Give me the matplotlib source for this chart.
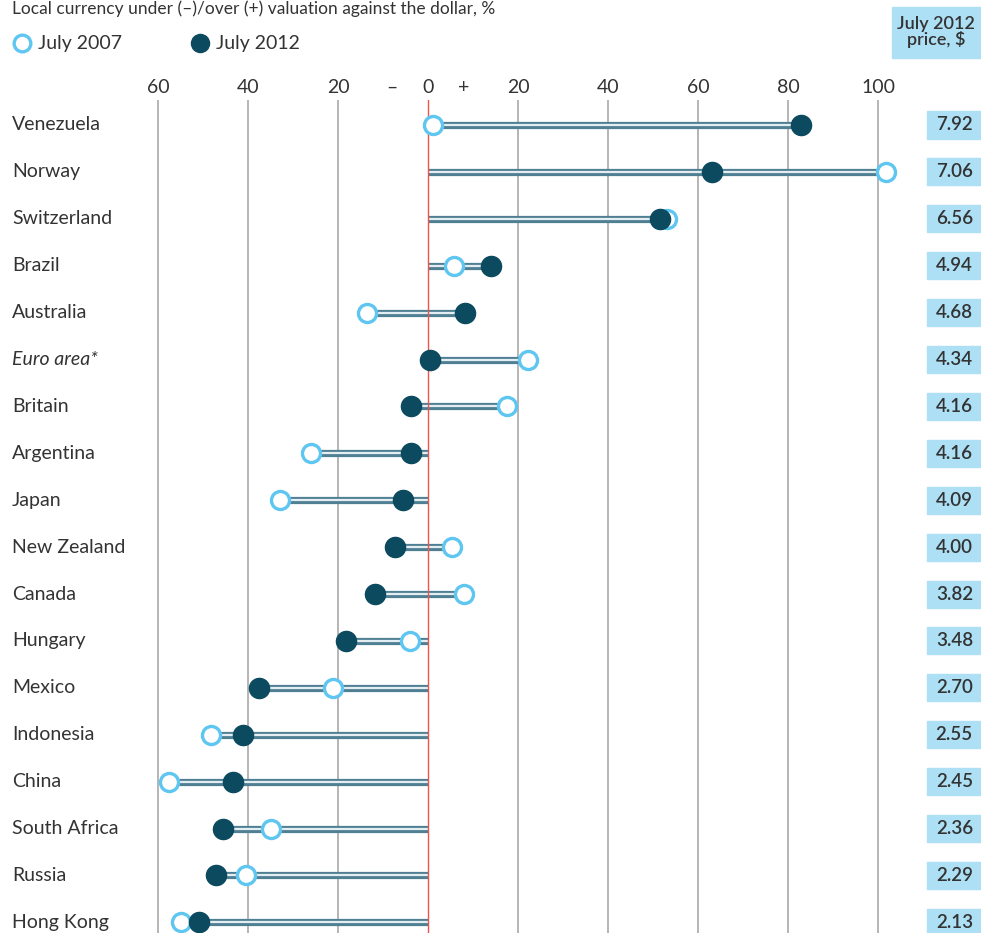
import matplotlib.pyplot as plt
import numpy as np

countries = ['Venezuela', 'Norway', 'Switzerland', 'Brazil', 'Australia', 'Euro area*',
             'Britain', 'Argentina', 'Japan', 'New Zealand', 'Canada', 'Hungary',
             'Mexico', 'Indonesia', 'China', 'South Africa', 'Russia', 'Hong Kong']
val_2007 = [1.1, 101.8, 53.1, 5.8, -13.6, 22.2, 17.6, -26.0, -32.9, 5.3, 8.0, -4.0,
            -21.1, -48.2, -57.6, -34.9, -40.4, -54.9]
val_2012 = [82.9, 63.1, 51.6, 14.0, 8.2, 0.4, -3.8, -3.8, -5.6, -7.3, -11.8, -18.2,
            -37.6, -41.1, -43.3, -45.6, -47.1, -50.9]
price_2012 = ['7.92', '7.06', '6.56', '4.94', '4.68', '4.34', '4.16', '4.16', '4.09',
              '4.00', '3.82', '3.48', '2.70', '2.55', '2.45', '2.36', '2.29', '2.13']
tick_pos = [-60, -40, -20, -8, 0, 8, 20, 40, 60, 80, 100]
tick_lab = ['60', '40', '20', '–', '0', '+', '20', '40', '60', '80', '100']
grid_pos = [-60, -40, -20, 20, 40, 60, 80, 100]

plt.rcParams['font.family'] = ['Lato', 'DejaVu Sans']

dark = '#0c4a5f'
light = '#5ec6f0'
bar_out = '#4f7f92'
box = '#aee0f5'
txt = '#333333'

W, H = 981, 933
fig = plt.figure(figsize=(W / 100, H / 100), dpi=100)
# axes in pixels: x 150..900, y 100..933
ax = fig.add_axes([150 / W, 0, 750 / W, 833 / H])
ax.set_xlim((150 - 428) / 4.5, (900 - 428) / 4.5)
ax.set_ylim((933 - 125) / 46.9, -25 / 46.9)
for s in ax.spines.values():
    s.set_visible(False)
ax.set_yticks([])
ax.xaxis.tick_top()
ax.set_xticks(tick_pos)
ax.set_xticklabels(tick_lab, fontsize=14, color=txt)
ax.tick_params(axis='x', length=0, pad=3)

for g in grid_pos:
    ax.axvline(g, color='#b5b5b5', lw=1.4, zorder=1)
ax.axvline(0, color='#f0524d', lw=1.0, zorder=3)

y = np.arange(len(countries))
for i in range(len(countries)):
    lo = min(0, val_2007[i], val_2012[i])
    hi = max(0, val_2007[i], val_2012[i])
    ax.plot([lo, hi], [i, i], color=bar_out, lw=5.2, solid_capstyle='butt', zorder=2)
    ax.plot([lo, hi], [i, i], color='#e4eef2', lw=1.6, solid_capstyle='butt', zorder=2)

ax.plot(val_2007, y, 'o', ms=13, mfc='white', mec=light, mew=2.4, ls='none', zorder=4)
ax.plot(val_2012, y, 'o', ms=14.5, color=dark, ls='none', zorder=5)

# country names and price boxes
for i, c in enumerate(countries):
    ypix = 125 + 46.9 * i
    fy = 1 - ypix / H
    fig.text(12 / W, fy, c, fontsize=14, color=txt, va='center', ha='left',
             style='italic' if c.startswith('Euro') else 'normal')
    fig.patches.append(plt.Rectangle((927 / W, fy - 13.5 / H), 54 / W, 27 / H,
                                     transform=fig.transFigure, color=box, zorder=0))
    fig.text(973 / W, fy, price_2012[i], fontsize=13.5, color=txt, va='center',
             ha='right', weight='semibold')

# header box
fig.patches.append(plt.Rectangle((892 / W, 1 - 58 / H), 89 / W, 51 / H,
                                 transform=fig.transFigure, color=box, zorder=0))
fig.text(936 / W, 1 - 32 / H, 'July 2012\nprice, $', fontsize=13, color=txt,
         ha='center', va='center', weight='semibold', linespacing=1.0)

# legend
fig.lines.append(plt.Line2D([22 / W], [1 - 43 / H], marker='o', ms=12, mfc='white',
                            mec=light, mew=2.4, transform=fig.transFigure))
fig.text(38 / W, 1 - 43 / H, 'July 2007', fontsize=14, color=txt, va='center')
fig.lines.append(plt.Line2D([200 / W], [1 - 43 / H], marker='o', ms=13, color=dark,
                            transform=fig.transFigure))
fig.text(216 / W, 1 - 43 / H, 'July 2012', fontsize=14, color=txt, va='center')

# subtitle
fig.text(12 / W, 1 - 14 / H, 'Local currency under (–)/over (+) valuation against the dollar, %',
         fontsize=12.5, color=txt, va='baseline')

plt.savefig('out.png', dpi=100)
